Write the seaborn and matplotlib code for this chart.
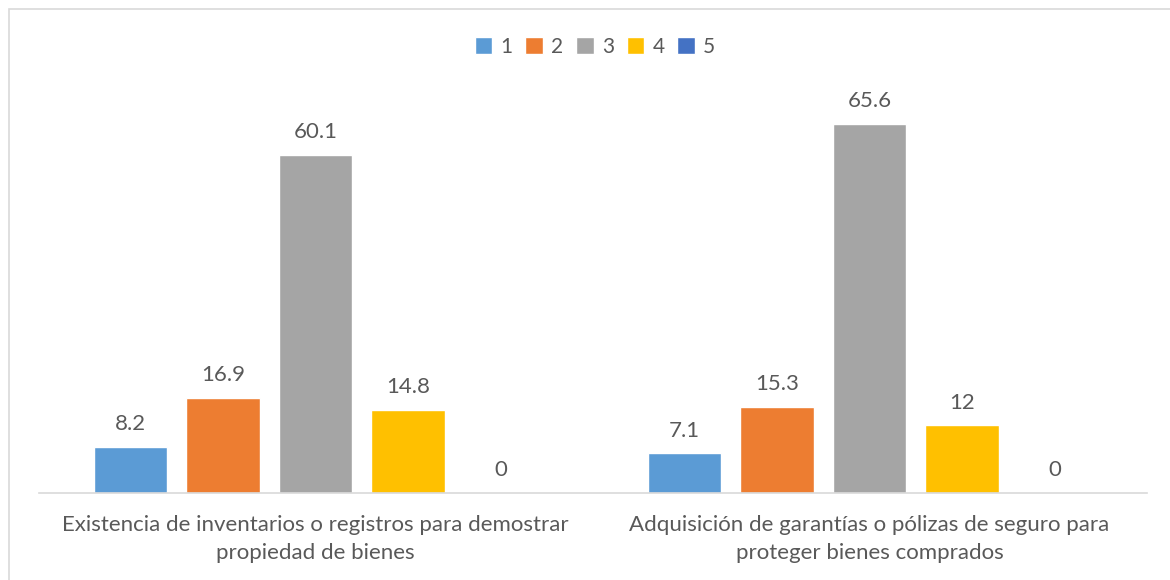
import pandas as pd
import seaborn as sns
import matplotlib.pyplot as plt
from matplotlib.patches import Rectangle

# Datos
categorias = ['Existencia de inventarios o registros para demostrar\npropiedad de bienes',
              'Adquisición de garantías o pólizas de seguro para\nproteger bienes comprados']
niveles = ['1', '2', '3', '4', '5']
valores_cat1 = [8.2, 16.9, 60.1, 14.8, 0]
valores_cat2 = [7.1, 15.3, 65.6, 12, 0]

my_colors = ['#5B9BD5', '#ED7D31', '#A5A5A5', '#FFC000', '#4472C4']

df = pd.DataFrame({
    'categoria': [categorias[0]] * 5 + [categorias[1]] * 5,
    'nivel': niveles * 2,
    'valor': valores_cat1 + valores_cat2,
})

sns.set_theme(style='white')
plt.rcParams['font.family'] = ['Lato', 'DejaVu Sans']
text_color = '#595959'

fig = plt.figure(figsize=(11.7, 5.8), dpi=100)
ax = fig.add_axes([38.5 / 1170, 87 / 580, 1108 / 1170, 394 / 580])

sns.barplot(data=df, x='categoria', y='valor', hue='nivel', hue_order=niveles,
            palette=my_colors, width=0.835, gap=0.21, saturation=1,
            ax=ax, legend=True)

for cont in ax.containers:
    labels = [f'{v:g}' for v in cont.datavalues]
    ax.bar_label(cont, labels=labels, padding=9, fontsize=16, color=text_color)

ax.set_ylim(0, 70)
ax.set_xlim(-0.5, 1.5)
ax.set_xlabel('')
ax.set_ylabel('')
ax.set_yticks([])
ax.tick_params(axis='x', length=0, pad=16, labelsize=16, labelcolor=text_color)
for lbl in ax.get_xticklabels():
    lbl.set_linespacing(1.5)

for side in ['top', 'right', 'left']:
    ax.spines[side].set_visible(False)
ax.spines['bottom'].set_color('#D9D9D9')
ax.spines['bottom'].set_linewidth(1.2)

handles, labs = ax.get_legend_handles_labels()
ax.legend(handles, labs, loc='center', bbox_to_anchor=(595 / 1170, 1 - 47 / 580),
          bbox_transform=fig.transFigure, ncol=5, frameon=False, fontsize=15,
          handlelength=0.85, handleheight=0.85, handletextpad=0.4, columnspacing=0.6,
          labelcolor=text_color)

# borde del área del gráfico
fig.patches.append(Rectangle((9 / 1170, -0.1), 1.2, 1 - 9 / 580 + 0.1,
                             transform=fig.transFigure, fill=False,
                             edgecolor='#D9D9D9', linewidth=1.2))

fig.savefig('out.png', dpi=100)
